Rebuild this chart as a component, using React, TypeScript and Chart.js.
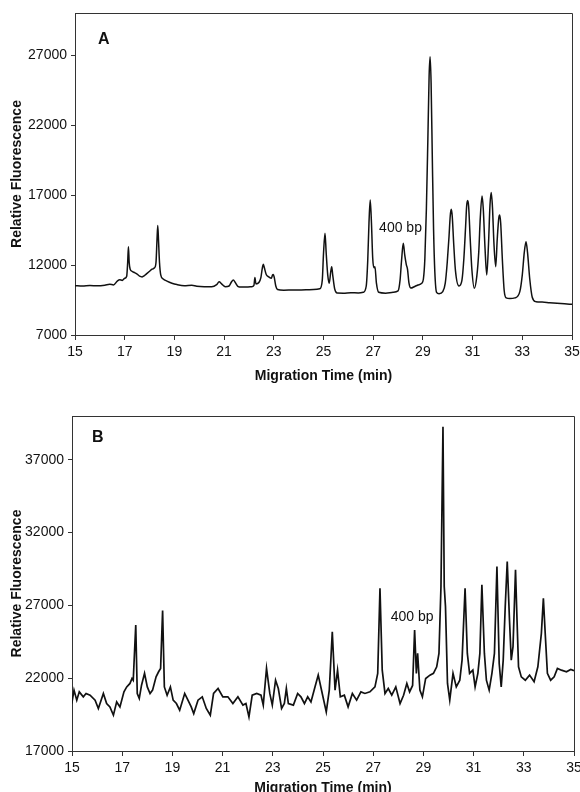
import React, { useEffect, useRef } from "react";
import { Chart, registerables } from "chart.js";

Chart.register(...registerables);

// ---------- Panel A data ----------
const timeA = [
  15.0, 15.3, 15.6, 15.9, 16.2, 16.4, 16.55, 16.7, 16.8, 16.9,
  17.0, 17.08, 17.12, 17.15, 17.18, 17.22, 17.3, 17.4, 17.5, 17.6,
  17.7, 17.8, 17.9, 18.0, 18.1, 18.2, 18.26, 18.3, 18.33, 18.36,
  18.4, 18.45, 18.55, 18.7, 18.9, 19.1, 19.4, 19.7, 19.9, 20.2,
  20.5, 20.7, 20.8, 20.9, 21.05, 21.2, 21.3, 21.37, 21.45, 21.55,
  21.7, 21.9, 22.1, 22.2, 22.24, 22.28, 22.4, 22.48, 22.54, 22.58,
  22.62, 22.7, 22.8, 22.9, 22.95, 22.98, 23.02, 23.08, 23.15, 23.4,
  23.7, 24.0, 24.3, 24.6, 24.85, 24.95, 25.0, 25.06, 25.11, 25.17,
  25.23, 25.29, 25.33, 25.37, 25.45, 25.55, 25.8, 26.1, 26.4, 26.6,
  26.72, 26.78, 26.83, 26.88, 26.93, 26.98, 27.03, 27.07, 27.13, 27.22,
  27.5, 27.8, 28.0, 28.08, 28.14, 28.21, 28.27, 28.33, 28.38, 28.44,
  28.52, 28.65, 28.8, 28.95, 29.02, 29.08, 29.14, 29.2, 29.25, 29.29,
  29.33, 29.38, 29.43, 29.48, 29.55, 29.65, 29.8, 29.9, 29.98, 30.05,
  30.1, 30.14, 30.18, 30.24, 30.31, 30.45, 30.57, 30.65, 30.72, 30.76,
  30.8, 30.84, 30.9, 30.97, 31.07, 31.17, 31.25, 31.31, 31.38, 31.43,
  31.5, 31.57, 31.64, 31.7, 31.75, 31.8, 31.86, 31.93, 31.99, 32.05,
  32.09, 32.13, 32.2, 32.27, 32.35, 32.5, 32.7, 32.9, 33.0, 33.08,
  33.15, 33.21, 33.3, 33.4, 33.55, 33.8, 34.1, 34.4, 34.7, 35.0,
];
const sigA = [
  10520, 10500, 10530, 10520, 10560, 10620, 10580, 10850, 10950, 10900,
  11050, 11200, 12200, 13300, 12200, 11700, 11550, 11450, 11350, 11200,
  11150, 11250, 11400, 11550, 11700, 11800, 12200, 13800, 14830, 13800,
  12200, 11300, 11000, 10850, 10700, 10600, 10520, 10550, 10480, 10450,
  10450, 10600, 10800, 10650, 10450, 10500, 10800, 10920, 10750, 10480,
  10420, 10420, 10450, 10550, 11100, 10650, 10750, 11100, 11800, 12050,
  11800, 11300, 11150, 11050, 11300, 11330, 11100, 10500, 10250, 10200,
  10210, 10220, 10230, 10250, 10300, 10900, 12800, 14260, 12800, 11300,
  10700, 11500, 11880, 11300, 10300, 10000, 9990, 10020, 10000, 10050,
  10500, 12300, 15000, 16640, 15000, 12500, 11800, 11880, 10700, 10050,
  9990, 10050, 10150, 10900, 12300, 13550, 12700, 12050, 11700, 10700,
  10350, 10450, 10570, 10690, 11000, 12500, 16000, 21000, 25500, 26880,
  25000, 19500, 14500, 11500, 10050, 9950, 10100, 10700, 12200, 14000,
  15500, 15980, 15500, 13500, 11600, 10500, 10900, 12500, 14800, 16200,
  16600, 16200, 14000, 11700, 10340, 11200, 13000, 15400, 16930, 16000,
  13200, 11290, 13500, 16300, 17170, 16100, 13500, 11880, 13800, 15300,
  15570, 15000, 12300, 10200, 9650, 9600, 9650, 10100, 11300, 12900,
  13660, 12900, 11000, 9700, 9380, 9350, 9300, 9260, 9230, 9190,
];

// ---------- Panel B data ----------
const timeB = [
  14.99, 15.08, 15.19, 15.29, 15.45, 15.56, 15.72, 15.92, 16.05, 16.25, 16.38, 16.51, 16.65, 16.78, 16.91, 17.07, 17.18, 17.31, 17.39, 17.44,
  17.54, 17.6, 17.68, 17.77, 17.89, 18.0, 18.11, 18.21, 18.35, 18.45, 18.53, 18.61, 18.68, 18.79, 18.92, 19.03, 19.16, 19.29, 19.49, 19.62,
  19.75, 19.85, 20.02, 20.19, 20.35, 20.51, 20.64, 20.82, 21.01, 21.21, 21.41, 21.61, 21.81, 21.93, 22.05, 22.18, 22.36, 22.53, 22.62, 22.75,
  22.88, 22.98, 23.11, 23.22, 23.35, 23.46, 23.54, 23.62, 23.82, 23.99, 24.12, 24.26, 24.39, 24.52, 24.68, 24.81, 24.97, 25.13, 25.25, 25.37,
  25.48, 25.58, 25.69, 25.85, 26.0, 26.17, 26.34, 26.51, 26.67, 26.87, 27.07, 27.18, 27.27, 27.36, 27.47, 27.6, 27.74, 27.9, 28.07, 28.21,
  28.34, 28.45, 28.57, 28.65, 28.72, 28.77, 28.86, 28.96, 29.09, 29.26, 29.4, 29.53, 29.62, 29.7, 29.78, 29.83, 29.88, 29.96, 30.05, 30.18,
  30.31, 30.45, 30.54, 30.66, 30.75, 30.84, 30.97, 31.06, 31.17, 31.25, 31.33, 31.43, 31.51, 31.62, 31.73, 31.83, 31.93, 32.02, 32.1, 32.18,
  32.26, 32.34, 32.43, 32.5, 32.57, 32.67, 32.73, 32.79, 32.9, 33.06, 33.23, 33.41, 33.56, 33.7, 33.78, 33.86, 33.94, 34.07, 34.21, 34.34,
  34.5, 34.7, 34.87, 35.0,
];
const sigB = [
  20260, 21180, 20490, 21060, 20720, 20950, 20830, 20490, 19920, 20950, 20260, 20030, 19460, 20370, 20030, 21060, 21400, 21640, 21980, 21860,
  25650, 20950, 20610, 21520, 22330, 21400, 20950, 21180, 22090, 22440, 22670, 26640, 21400, 20830, 21400, 20490, 20260, 19800, 20950, 20490,
  20030, 19570, 20490, 20720, 19920, 19460, 20950, 21290, 20720, 20720, 20260, 20720, 20150, 20260, 19340, 20830, 20950, 20830, 20150, 22670,
  20950, 20150, 21860, 21290, 19920, 20260, 21290, 20260, 20150, 20950, 20720, 20260, 20720, 20370, 21400, 22210, 20950, 19690, 21180, 25190,
  21180, 22550, 20720, 20830, 20030, 20950, 20490, 21060, 20950, 21060, 21400, 22330, 28180, 22550, 20950, 21290, 20830, 21400, 20260, 20830,
  21640, 21060, 21500, 25310, 22330, 23700, 21180, 20720, 21980, 22210, 22330, 22780, 23700, 28290, 39260, 28290, 26910, 21640, 20490, 22330,
  21400, 21860, 23240, 28180, 23700, 22330, 22550, 21400, 22330, 23700, 28410, 23700, 21860, 21180, 22330, 23700, 29670, 23010, 21400, 23240,
  26910, 30010, 26000, 23240, 24160, 29440, 26000, 22780, 22090, 21860, 22210, 21750, 22780, 25080, 27490, 24850, 22330, 21860, 22090, 22670,
  22550, 22440, 22600, 22510,
];

// ---------- Axis ticks ----------
const xTicks = [15, 17, 19, 21, 23, 25, 27, 29, 31, 33, 35];
const yTicksA = [7000, 12000, 17000, 22000, 27000];
const yTicksB = [17000, 22000, 27000, 32000, 37000];

// ---------- Text annotations (data coordinates) ----------
const panelLetterA = { text: "A", t: 15.93, v: 28070 };
const panelLetterB = { text: "B", t: 15.8, v: 38520 };
const bpLabelA = { text: "400 bp", t: 28.1, v: 14600 };
const bpLabelB = { text: "400 bp", t: 28.55, v: 26200 };

const FONT = "'Liberation Sans', Arial, Helvetica, sans-serif";

type PanelCfg = {
  times: number[];
  values: number[];
  yMin: number;
  yMax: number;
  yTicks: number[];
  letter: { text: string; t: number; v: number };
  bp: { text: string; t: number; v: number };
  plotLeft: number;
  plotRight: number;
  plotTop: number;
  xAxisH: number;
  width: number;
  titlePadBottom: number;
  lineWidth: number;
  smooth: boolean;
};

function buildChart(canvas: HTMLCanvasElement, c: PanelCfg) {
  const framePlugin = {
    id: "frameAndText",
    afterDraw(chart: any) {
      const { ctx, chartArea, scales } = chart;
      ctx.save();
      ctx.strokeStyle = "#333";
      ctx.lineWidth = 1;
      ctx.beginPath();
      ctx.moveTo(chartArea.left, chartArea.top + 0.5);
      ctx.lineTo(chartArea.right + 0.5, chartArea.top + 0.5);
      ctx.lineTo(chartArea.right + 0.5, chartArea.bottom);
      ctx.stroke();
      ctx.fillStyle = "#111";
      ctx.textBaseline = "middle";
      ctx.textAlign = "left";
      ctx.font = `bold 16px ${FONT}`;
      ctx.fillText(c.letter.text, scales.x.getPixelForValue(c.letter.t), scales.y.getPixelForValue(c.letter.v));
      ctx.textAlign = "center";
      ctx.font = `14px ${FONT}`;
      ctx.fillText(c.bp.text, scales.x.getPixelForValue(c.bp.t), scales.y.getPixelForValue(c.bp.v));
      ctx.restore();
    },
  };

  const ds: any = {
    data: c.times.map((t, i) => ({ x: t, y: c.values[i] })),
    borderColor: "#111",
    borderWidth: c.lineWidth,
    pointRadius: 0,
    fill: false,
  };
  if (c.smooth) ds.cubicInterpolationMode = "monotone";
  else ds.tension = 0;

  return new Chart(canvas, {
    type: "line",
    data: { datasets: [ds] },
    options: {
      responsive: false,
      animation: false,
      events: [],
      layout: { padding: { top: c.plotTop, right: c.width - c.plotRight, left: 0, bottom: 0 } },
      plugins: { legend: { display: false }, tooltip: { enabled: false } },
      scales: {
        x: {
          type: "linear",
          min: 15,
          max: 35,
          afterBuildTicks: (s: any) => {
            s.ticks = xTicks.map((v) => ({ value: v }));
          },
          afterFit: (s: any) => {
            s.height = c.xAxisH;
            s.paddingLeft = 0;
            s.paddingRight = 0;
          },
          ticks: {
            color: "#111",
            font: { family: FONT, size: 14 },
            padding: 4,
            maxRotation: 0,
            autoSkip: false,
            callback: (v: any) => String(v),
          },
          grid: { display: true, drawOnChartArea: false, drawTicks: true, tickLength: 5, color: "#333" },
          border: { display: true, color: "#333", width: 1 },
          title: {
            display: true,
            text: "Migration Time (min)",
            color: "#111",
            font: { family: FONT, size: 14, weight: "bold" },
            padding: { top: 0, bottom: c.titlePadBottom },
          },
        },
        y: {
          type: "linear",
          min: c.yMin,
          max: c.yMax,
          afterBuildTicks: (s: any) => {
            s.ticks = c.yTicks.map((v) => ({ value: v }));
          },
          afterFit: (s: any) => {
            s.width = c.plotLeft;
            s.paddingTop = 0;
            s.paddingBottom = 0;
          },
          ticks: {
            color: "#111",
            font: { family: FONT, size: 14 },
            padding: 4,
            callback: (v: any) => String(v),
          },
          grid: { display: true, drawOnChartArea: false, drawTicks: true, tickLength: 4, color: "#333" },
          border: { display: true, color: "#333", width: 1 },
          title: {
            display: true,
            text: "Relative Fluorescence",
            color: "#111",
            font: { family: FONT, size: 14, weight: "bold" },
            padding: { top: 9, bottom: 0 },
          },
        },
      },
    } as any,
    plugins: [framePlugin],
  });
}

export default function App() {
  const refA = useRef<HTMLCanvasElement>(null);
  const refB = useRef<HTMLCanvasElement>(null);

  useEffect(() => {
    const a = buildChart(refA.current!, {
      times: timeA,
      values: sigA,
      yMin: 7000,
      yMax: 30000,
      yTicks: yTicksA,
      letter: panelLetterA,
      bp: bpLabelA,
      plotLeft: 75,
      plotRight: 572,
      plotTop: 13,
      xAxisH: 61,
      width: 580,
      titlePadBottom: 11,
      lineWidth: 1.5,
      smooth: true,
    });
    const b = buildChart(refB.current!, {
      times: timeB,
      values: sigB,
      yMin: 17000,
      yMax: 40000,
      yTicks: yTicksB,
      letter: panelLetterB,
      bp: bpLabelB,
      plotLeft: 72,
      plotRight: 574,
      plotTop: 20,
      xAxisH: 49,
      width: 580,
      titlePadBottom: 3,
      lineWidth: 1.7,
      smooth: false,
    });
    return () => {
      a.destroy();
      b.destroy();
    };
  }, []);

  return (
    <div style={{ position: "absolute", left: 0, top: 0, width: 580, height: 792, background: "#fff", overflow: "hidden" }}>
      <canvas ref={refA} width={580} height={396} style={{ position: "absolute", left: 0, top: 0, width: 580, height: 396 }} />
      <canvas ref={refB} width={580} height={404} style={{ position: "absolute", left: 0, top: 396, width: 580, height: 404 }} />
    </div>
  );
}
